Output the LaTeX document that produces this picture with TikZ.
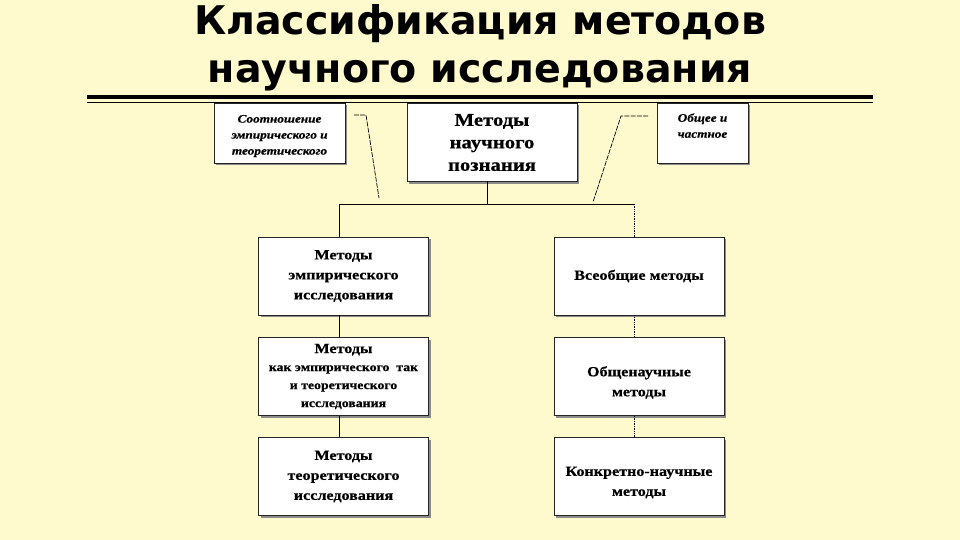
\documentclass[tikz,border=0pt]{standalone}
\usepackage{fontspec}
\setmainfont{Liberation Serif}
\newfontfamily\boxfont[FakeStretch=1.15, BoldFeatures={FakeBold=0.6}, BoldItalicFeatures={FakeBold=0.6}]{Liberation Serif}
\newfontfamily\titlefont{DejaVu Sans}
\usetikzlibrary{shadows}
\definecolor{bgcol}{RGB}{255,250,205}
\newcommand{\shiftdown}[2]{\raisebox{-#1}[\height][\depth]{#2}}
\tikzset{
  boxbase/.style={draw=black!85, line width=0.6pt, fill=white, align=center,
    inner sep=0pt,
    drop shadow={shadow xshift=2pt, shadow yshift=-2pt, fill=black!45, opacity=1}},
  mainbox/.style={boxbase, minimum width=170pt, minimum height=78pt,
    font=\boxfont\bfseries\fontsize{14}{20}\selectfont},
  smallbox/.style={boxbase, minimum width=131pt, minimum height=60pt,
    font=\boxfont\bfseries\itshape\fontsize{11.5}{16}\selectfont},
  conn/.style={line width=0.7pt, draw=black},
  dotconn/.style={line width=0.7pt, draw=black, densely dotted},
  callout/.style={line width=0.7pt, draw=black, dash pattern=on 5pt off 1.2pt},
}
\begin{document}
\begin{tikzpicture}[x=1pt,y=-1pt]
\fill[bgcol] (0,0) rectangle (960,540);
\useasboundingbox (0,0) rectangle (960,540);

\node[font=\titlefont\bfseries\fontsize{39.5}{48}\selectfont, align=center, inner sep=0pt] (title) at (480,48)
  {Классификация методов\\научного исследования};

\draw[line width=3.5pt] (87,97) -- (873,97);
\draw[line width=1pt] (87,102.5) -- (873,102.5);

% top row
\node[mainbox, font=\boxfont\bfseries\fontsize{18}{22.5}\selectfont] (top) at (492,142.5)
  {Методы\\научного\\познания};
\node[smallbox] (rel) at (279.5,133)
  {\shiftdown{3pt}{\parbox{125pt}{\centering Соотношение\\эмпирического и\\теоретического}}};
\node[smallbox, minimum width=91pt] (gen) at (702.5,133)
  {\shiftdown{3pt}{\parbox{85pt}{\centering Общее и\\частное\\\strut}}};

% left column
\node[mainbox] (e1) at (343.5,276) {Методы\\эмпирического\\исследования};
\node[mainbox, font=\boxfont\bfseries\fontsize{12}{18}\selectfont] (e2) at (343.5,376.5)
  {{\fontsize{14}{18}\selectfont Методы}\\как эмпирического \ так\\и теоретического\\исследования};
\node[mainbox] (e3) at (343.5,476.5) {Методы\\теоретического\\исследования};

% right column
\node[mainbox] (u1) at (639,276) {Всеобщие методы};
\node[mainbox] (u2) at (639,376.5) {\shiftdown{6pt}{\parbox{160pt}{\centering Общенаучные\\методы}}};
\node[mainbox] (u3) at (639,476.5) {\shiftdown{6pt}{\parbox{160pt}{\centering Конкретно-научные\\методы}}};

% tree connectors
\coordinate (tb) at (487,181);
\coordinate (tj) at (487,204);
\coordinate (jl) at (339,204);
\coordinate (jr) at (634,204);
\draw[conn] (tb) -- (tj);
\draw[conn] (jl) -- (jr);
\draw[conn] (jl) -- (jl |- e1.north);
\draw[dotconn] (jr) -- (jr |- u1.north);
\draw[conn] (jl |- e1.south) -- (jl |- e2.north);
\draw[conn] (jl |- e2.south) -- (jl |- e3.north);
\draw[dotconn] (jr |- u1.south) -- (jr |- u2.north);
\draw[dotconn] (jr |- u2.south) -- (jr |- u3.north);

% callouts
\coordinate (c1a) at (354,115);
\coordinate (c1b) at (366,115);
\coordinate (c1c) at (379,198);
\coordinate (c2a) at (648,116);
\coordinate (c2b) at (621,116);
\coordinate (c2c) at (593,202);
\draw[callout] (c1a) -- (c1b) -- (c1c);
\draw[callout] (c2a) -- (c2b) -- (c2c);
\end{tikzpicture}
\end{document}
